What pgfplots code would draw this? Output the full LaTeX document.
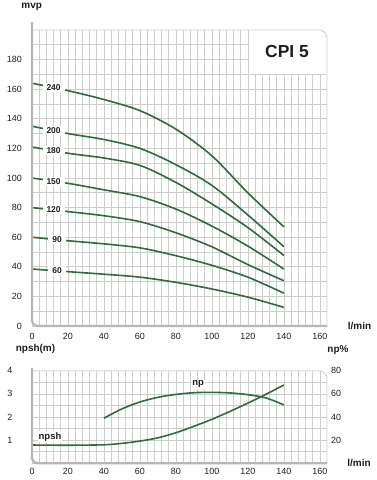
\documentclass[border=0pt]{standalone}
\usepackage{fontspec}
\setmainfont{Liberation Sans}
\usepackage{pgfplots}
\pgfplotsset{compat=1.18}
\definecolor{curve}{RGB}{45,108,62}
\definecolor{gridc}{RGB}{205,205,205}
\definecolor{axisc}{RGB}{182,182,182}
\definecolor{txt}{RGB}{30,30,30}
\tikzset{
  clab/.style={fill=white, inner xsep=4bp, inner ysep=1.5bp, text=txt, font=\bfseries\fontsize{8.5}{9}\selectfont},
  blab/.style={fill=white, inner sep=1bp, text=txt, font=\bfseries\fontsize{9.5}{10}\selectfont},
}
\begin{document}
\begin{tikzpicture}[x=1bp,y=1bp]
\useasboundingbox (0,0) rectangle (376,480);
\pgfplotsset{
  base/.style={scale only axis, xmin=0, xmax=164, width=295bp,
    axis line style={draw=none}, major tick length=0pt, minor tick length=0pt,
    tick label style={font=\fontsize{9}{10}\selectfont, text=txt},
    /pgf/number format/assume math mode=true,
    clip=false,
    xtick={0,20,...,160},
    minor xtick={0,4,...,160},
    grid=minor,
    minor grid style={gridc, line width=0.6bp},
    major grid style={draw=none},
  },
  crv/.style={curve, line width=1.6bp, smooth},
}
% ---------------- top chart ----------------
\begin{axis}[base, at={(32bp,154bp)}, anchor=south west, height=296bp,
  ymin=0, ymax=200, ytick={0,20,...,180}, minor ytick={0,10,...,190},
  xticklabel style={anchor=center, yshift=-10.5bp},
  yticklabel style={anchor=east, inner sep=0pt, xshift=-10bp}]
\addplot[crv] coordinates {(0,164) (20,159) (40,153) (60,145.5) (80,133) (100,115) (120,90) (140,67)};
\addplot[crv] coordinates {(0,135) (20,130) (40,126) (60,120) (80,109) (100,95) (120,75) (140,53.6)};
\addplot[crv] coordinates {(0,121) (20,116.7) (40,113.5) (60,108.5) (80,97) (100,82.5) (120,66.5) (140,47.7)};
\addplot[crv] coordinates {(0,100) (20,96.4) (40,92) (60,87.4) (80,79) (100,67.5) (120,54) (140,38.5)};
\addplot[crv] coordinates {(0,80) (20,77.3) (40,74.5) (60,70.5) (80,63) (100,53.5) (120,41.5) (140,30.6)};
\addplot[crv] coordinates {(0,60) (20,57.6) (40,55.5) (60,52.8) (80,47.5) (100,41) (120,33) (140,22.2)};
\addplot[crv] coordinates {(0,38.5) (20,36.7) (40,35) (60,33) (80,29.5) (100,25) (120,19.5) (140,12.6)};
\node[clab] at (axis cs:12,161) {240};
\node[clab] at (axis cs:12,132) {200};
\node[clab] at (axis cs:12,118.4) {180};
\node[clab] at (axis cs:12,97.8) {150};
\node[clab] at (axis cs:12,78.4) {120};
\node[clab] at (axis cs:14,58.3) {90};
\node[clab] at (axis cs:14,37.2) {60};
\fill[white] (axis cs:120,170) rectangle (axis cs:164,200);
\draw[gridc, line width=0.7bp] (axis cs:164,170) -- (axis cs:120,170) -- (axis cs:120,200);
\draw[gridc, line width=0.8bp, rounded corners=8bp] (axis cs:0,200) -- (axis cs:164,200) -- (axis cs:164,0);
\draw[axisc, line width=2.2bp, rounded corners=6bp] (axis cs:0,205.5) -- (axis cs:0,0) -- (axis cs:164,0);
\end{axis}
% ---------------- bottom chart ----------------
\begin{axis}[base, at={(32bp,16.7bp)}, anchor=south west, height=92.6bp,
  ymin=0, ymax=4, ytick={1,2,3,4}, minor ytick={0,0.5,...,3.5},
  xticklabel style={anchor=center, yshift=-8.4bp},
  yticklabel style={anchor=east, inner sep=0pt, xshift=-19.5bp}]
\addplot[crv] coordinates {(0,0.79) (20,0.78) (40,0.8) (50,0.86) (60,0.96) (70,1.1) (80,1.32) (90,1.6) (100,1.9) (110,2.24) (120,2.6) (130,2.98) (140,3.38)};
\draw[gridc, line width=0.8bp, rounded corners=8bp] (axis cs:0,4) -- (axis cs:164,4) -- (axis cs:164,0);
\draw[axisc, line width=2.2bp, rounded corners=6bp] (axis cs:0,4.12) -- (axis cs:0,0) -- (axis cs:164,0);
\node[blab] at (axis cs:10,1.15) {npsh};
\end{axis}
\begin{axis}[scale only axis, at={(32bp,16.7bp)}, anchor=south west, width=295bp, height=92.6bp,
  xmin=0, xmax=164, ymin=0, ymax=80, axis x line=none, axis y line*=right,
  axis line style={draw=none}, major tick length=0pt,
  ytick={20,40,60,80},
  tick label style={font=\fontsize{9}{10}\selectfont, text=txt},
  /pgf/number format/assume math mode=true,
  yticklabel style={anchor=west, inner sep=0pt, xshift=4bp}, clip=false]
\addplot[crv] coordinates {(40,39) (50,47) (60,53) (70,57) (80,59.5) (90,61) (100,61.3) (110,60.8) (120,59.3) (130,56.5) (140,50.5)};
\node[blab] at (axis cs:92.4,68.2) {np};
\end{axis}
% ---------------- labels ----------------
\begin{scope}[every node/.style={text=txt, font=\bfseries\fontsize{10}{11}\selectfont}]
\node at (31.7,473) {mvp};
\node at (359.5,154.3) {l/min};
\node at (35.5,131) {npsh(m)};
\node at (338,130) {np\%};
\node at (359,17.3) {l/min};
\node[font=\bfseries\fontsize{17.5}{18}\selectfont] at (287,428) {CPI 5};
\end{scope}
\end{tikzpicture}
\end{document}
